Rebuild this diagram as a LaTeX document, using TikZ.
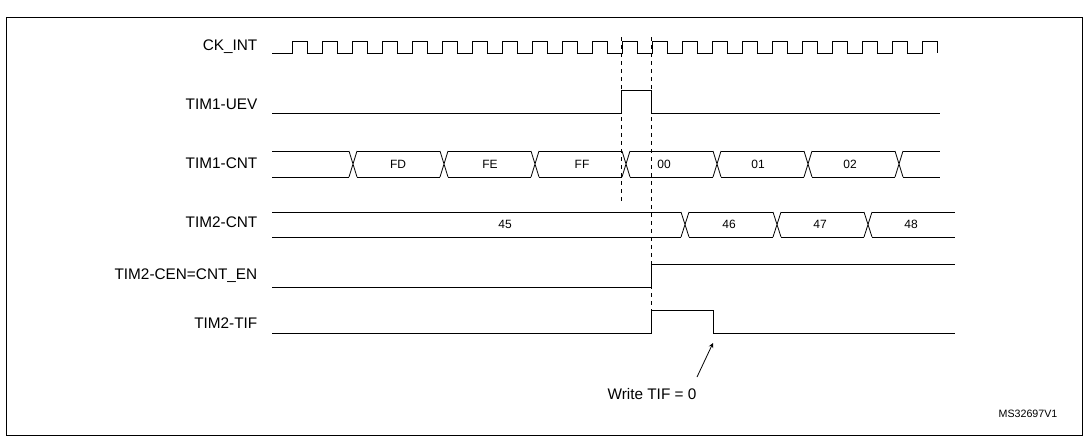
\documentclass[tikz,border=0pt]{standalone}
\usepackage{fontspec}
\setmainfont{Liberation Sans}
\usetikzlibrary{positioning}

\tikzset{
	sig/.style={semithick},
	lbl/.style={anchor=east, font=\fontsize{11.5}{13}\selectfont},
	val/.style={font=\fontsize{9}{10}\selectfont},
	guide/.style={semithick, dashed},
}

\begin{document}
\begin{tikzpicture}[x=0.75pt, y=-0.75pt]

	\useasboundingbox (0,0) rectangle (1085,437);
	\draw[semithick] (6,17) rectangle (1082,435);
	
	\node[lbl] (ck) at (262,47) {CK\_INT};
	\node[lbl] (uev) at (262,104) {TIM1-UEV};
	\node[lbl] (cnt1) at (262,163) {TIM1-CNT};
	\node[lbl] (cnt2) at (262,222) {TIM2-CNT};
	\node[lbl] (cen) at (262,276) {TIM2-CEN=CNT\_EN};
	\node[lbl] (tif) at (262,323) {TIM2-TIF};
	
	% clock
	\draw[sig] (272,53) -- (292,53)
		\foreach \k in {0,...,20} {
			-- ({292+30*\k},41) -- ({307+30*\k},41) -- ({307+30*\k},53) -- ({322+30*\k},53)
		}
		-- (922,41) -- (937,41) -- (937,53);
	
	% update event
	\draw[sig] (272,113) -- (621,113) -- (621,90) -- (651,90) -- (651,113) -- (940,113);
	
	% TIM1 counter
	\draw[sig] (272,151) -- (349,151) (272,177) -- (349,177);
	\foreach \a/\b in {353/444, 444/535, 535/626, 626/717, 717/808, 808/899} {
		\draw[sig] (\a-4,151) -- (\a+4,177) (\a-4,177) -- (\a+4,151);
		\draw[sig] (\a+4,151) -- (\b-4,151) (\a+4,177) -- (\b-4,177);
	}
	\draw[sig] (895,151) -- (903,177) (895,177) -- (903,151);
	\draw[sig] (903,151) -- (940,151) (903,177) -- (940,177);
	\node[val] (fd) at (398,164) {FD};
	\node[val] (fe) at (490,164) {FE};
	\node[val] (ff) at (582,164) {FF};
	\node[val] (c00) at (664,164) {00};
	\node[val] (c01) at (758,164) {01};
	\node[val] (c02) at (850,164) {02};
	
	% TIM2 counter
	\draw[sig] (272,212) -- (681,212) (272,237) -- (681,237);
	\foreach \a/\b in {685/777, 777/868, 868/959} {
		\draw[sig] (\a-4,212) -- (\a+4,237) (\a-4,237) -- (\a+4,212);
		\draw[sig] (\a+4,212) -- (\b-4,212) (\a+4,237) -- (\b-4,237);
	}
	\node[val] (c45) at (505,224) {45};
	\node[val] (c46) at (729,224) {46};
	\node[val] (c47) at (820,224) {47};
	\node[val] (c48) at (911,224) {48};
	
	% enable and trigger flag
	\draw[sig] (272,287) -- (651,287) -- (651,264) -- (955,264);
	\draw[sig] (272,333) -- (651,333) -- (651,310) -- (713,310) -- (713,333) -- (955,333);
	
	\draw[guide] (621,37) -- (621,202);
	\draw[guide] (651,37) -- (651,310);
	
	\coordinate (clr) at (713,343);
	\coordinate (tail) at (697,377);
	\node[lbl, anchor=center] (write) at (652,394) {Write TIF = 0};
	\draw[-stealth, semithick] (tail) -- (clr);
	
	\node[font=\fontsize{8}{9}\selectfont] (ms) at (1028,414) {MS32697V1};

\end{tikzpicture}
\end{document}
